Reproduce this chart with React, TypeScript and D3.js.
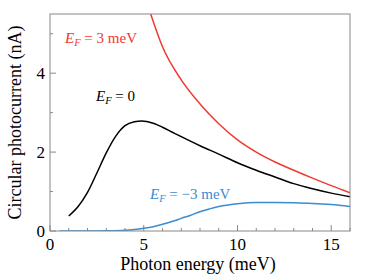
import * as d3 from "d3";

const energyRed = [5.3, 6, 7, 8, 9, 10, 11, 12, 13, 14, 15, 16];
const currentRed = [5.6, 4.67, 3.83, 3.22, 2.72, 2.31, 2.0, 1.75, 1.54, 1.34, 1.15, 0.97];

const energyBlack = [1, 1.5, 2, 2.5, 3, 3.5, 4, 4.5, 4.9, 5.5, 6, 6.5, 7, 8, 9, 10, 11, 12, 13, 14, 15, 16];
const currentBlack = [0.38, 0.62, 0.98, 1.47, 1.98, 2.4, 2.67, 2.77, 2.79, 2.73, 2.63, 2.51, 2.39, 2.16, 1.95, 1.73, 1.54, 1.37, 1.2, 1.07, 0.96, 0.87];

const energyBlue = [0.5, 2, 3, 4, 4.5, 5, 5.5, 6, 6.5, 7, 7.5, 8, 8.5, 9, 9.5, 10, 11, 12, 13, 14, 15, 16];
const currentBlue = [0, 0, 0.005, 0.02, 0.04, 0.07, 0.11, 0.17, 0.24, 0.32, 0.4, 0.49, 0.56, 0.62, 0.66, 0.69, 0.72, 0.72, 0.715, 0.7, 0.67, 0.62];

const xMajorTicks = [0, 5, 10, 15];
const xMinorTicks = d3.range(0, 17, 1);
const yMajorTicks = [0, 2, 4];
const yMinorTicks = [1, 3, 5];

const width = 374;
const height = 280;
const margin = { top: 14, right: 24, bottom: 49, left: 50 };

const font = "Liberation Serif, DejaVu Serif, serif";

export default function App() {
  const x = d3.scaleLinear().domain([0, 16]).range([margin.left, width - margin.right]);
  const y = d3.scaleLinear().domain([0, 5.5]).range([height - margin.bottom, margin.top]);

  const line = d3
    .line<[number, number]>()
    .x((d) => x(d[0]))
    .y((d) => y(d[1]))
    .curve(d3.curveMonotoneX);

  const red = line(energyRed.map((e, i) => [e, currentRed[i]]));
  const black = line(energyBlack.map((e, i) => [e, currentBlack[i]]));
  const blue = line(energyBlue.map((e, i) => [e, currentBlue[i]]));

  const y0 = y(0);
  const x0 = x(0);

  return (
    <svg
      width={width}
      height={height}
      style={{ position: "absolute", left: 0, top: 0, background: "#fff", fontFamily: font }}
    >
      <defs>
        <clipPath id="plot-clip">
          <rect x={x0} y={margin.top} width={x(16) - x0} height={y0 - margin.top} />
        </clipPath>
      </defs>

      {/* ticks point inward */}
      {xMinorTicks.map((t) => (
        <line key={"xm" + t} x1={x(t)} x2={x(t)} y1={y0} y2={y0 - (xMajorTicks.includes(t) ? 6 : 3)} stroke="#888" />
      ))}
      {yMajorTicks.map((t) => (
        <line key={"yM" + t} x1={x0} x2={x0 + 6} y1={y(t)} y2={y(t)} stroke="#888" />
      ))}
      {yMinorTicks.map((t) => (
        <line key={"ym" + t} x1={x0} x2={x0 + 3} y1={y(t)} y2={y(t)} stroke="#888" />
      ))}

      <g clipPath="url(#plot-clip)" fill="none" strokeWidth={1.5}>
        <path d={blue ?? ""} stroke="#3a8dcf" />
        <path d={black ?? ""} stroke="#000" />
        <path d={red ?? ""} stroke="#ee3a2f" />
      </g>

      <rect x={x0} y={margin.top} width={x(16) - x0} height={y0 - margin.top} fill="none" stroke="#888" />

      {xMajorTicks.map((t) => (
        <text key={"xl" + t} x={x(t)} y={y0 + 19} textAnchor="middle" fontSize={17}>
          {t}
        </text>
      ))}
      {yMajorTicks.map((t) => (
        <text key={"yl" + t} x={x0 - 5} y={y(t) + 6} textAnchor="end" fontSize={17}>
          {t}
        </text>
      ))}

      <text x={(x0 + x(16)) / 2 - 2} y={270} textAnchor="middle" fontSize={18}>
        Photon energy (meV)
      </text>
      <text
        transform={`translate(21, ${(margin.top + y0) / 2}) rotate(-90)`}
        textAnchor="middle"
        fontSize={18}
      >
        Circular photocurrent (nA)
      </text>

      <text x={65} y={43} fontSize={15} fill="#ee3a2f">
        <tspan fontStyle="italic">E</tspan>
        <tspan fontStyle="italic" fontSize={10.5} dy={3}>F</tspan>
        <tspan dy={-3}> = 3 meV</tspan>
      </text>
      <text x={96} y={101} fontSize={15} fill="#000">
        <tspan fontStyle="italic">E</tspan>
        <tspan fontStyle="italic" fontSize={10.5} dy={3}>F</tspan>
        <tspan dy={-3}> = 0</tspan>
      </text>
      <text x={150} y={199} fontSize={15} fill="#3a8dcf">
        <tspan fontStyle="italic">E</tspan>
        <tspan fontStyle="italic" fontSize={10.5} dy={3}>F</tspan>
        <tspan dy={-3}> = −3 meV</tspan>
      </text>
    </svg>
  );
}
